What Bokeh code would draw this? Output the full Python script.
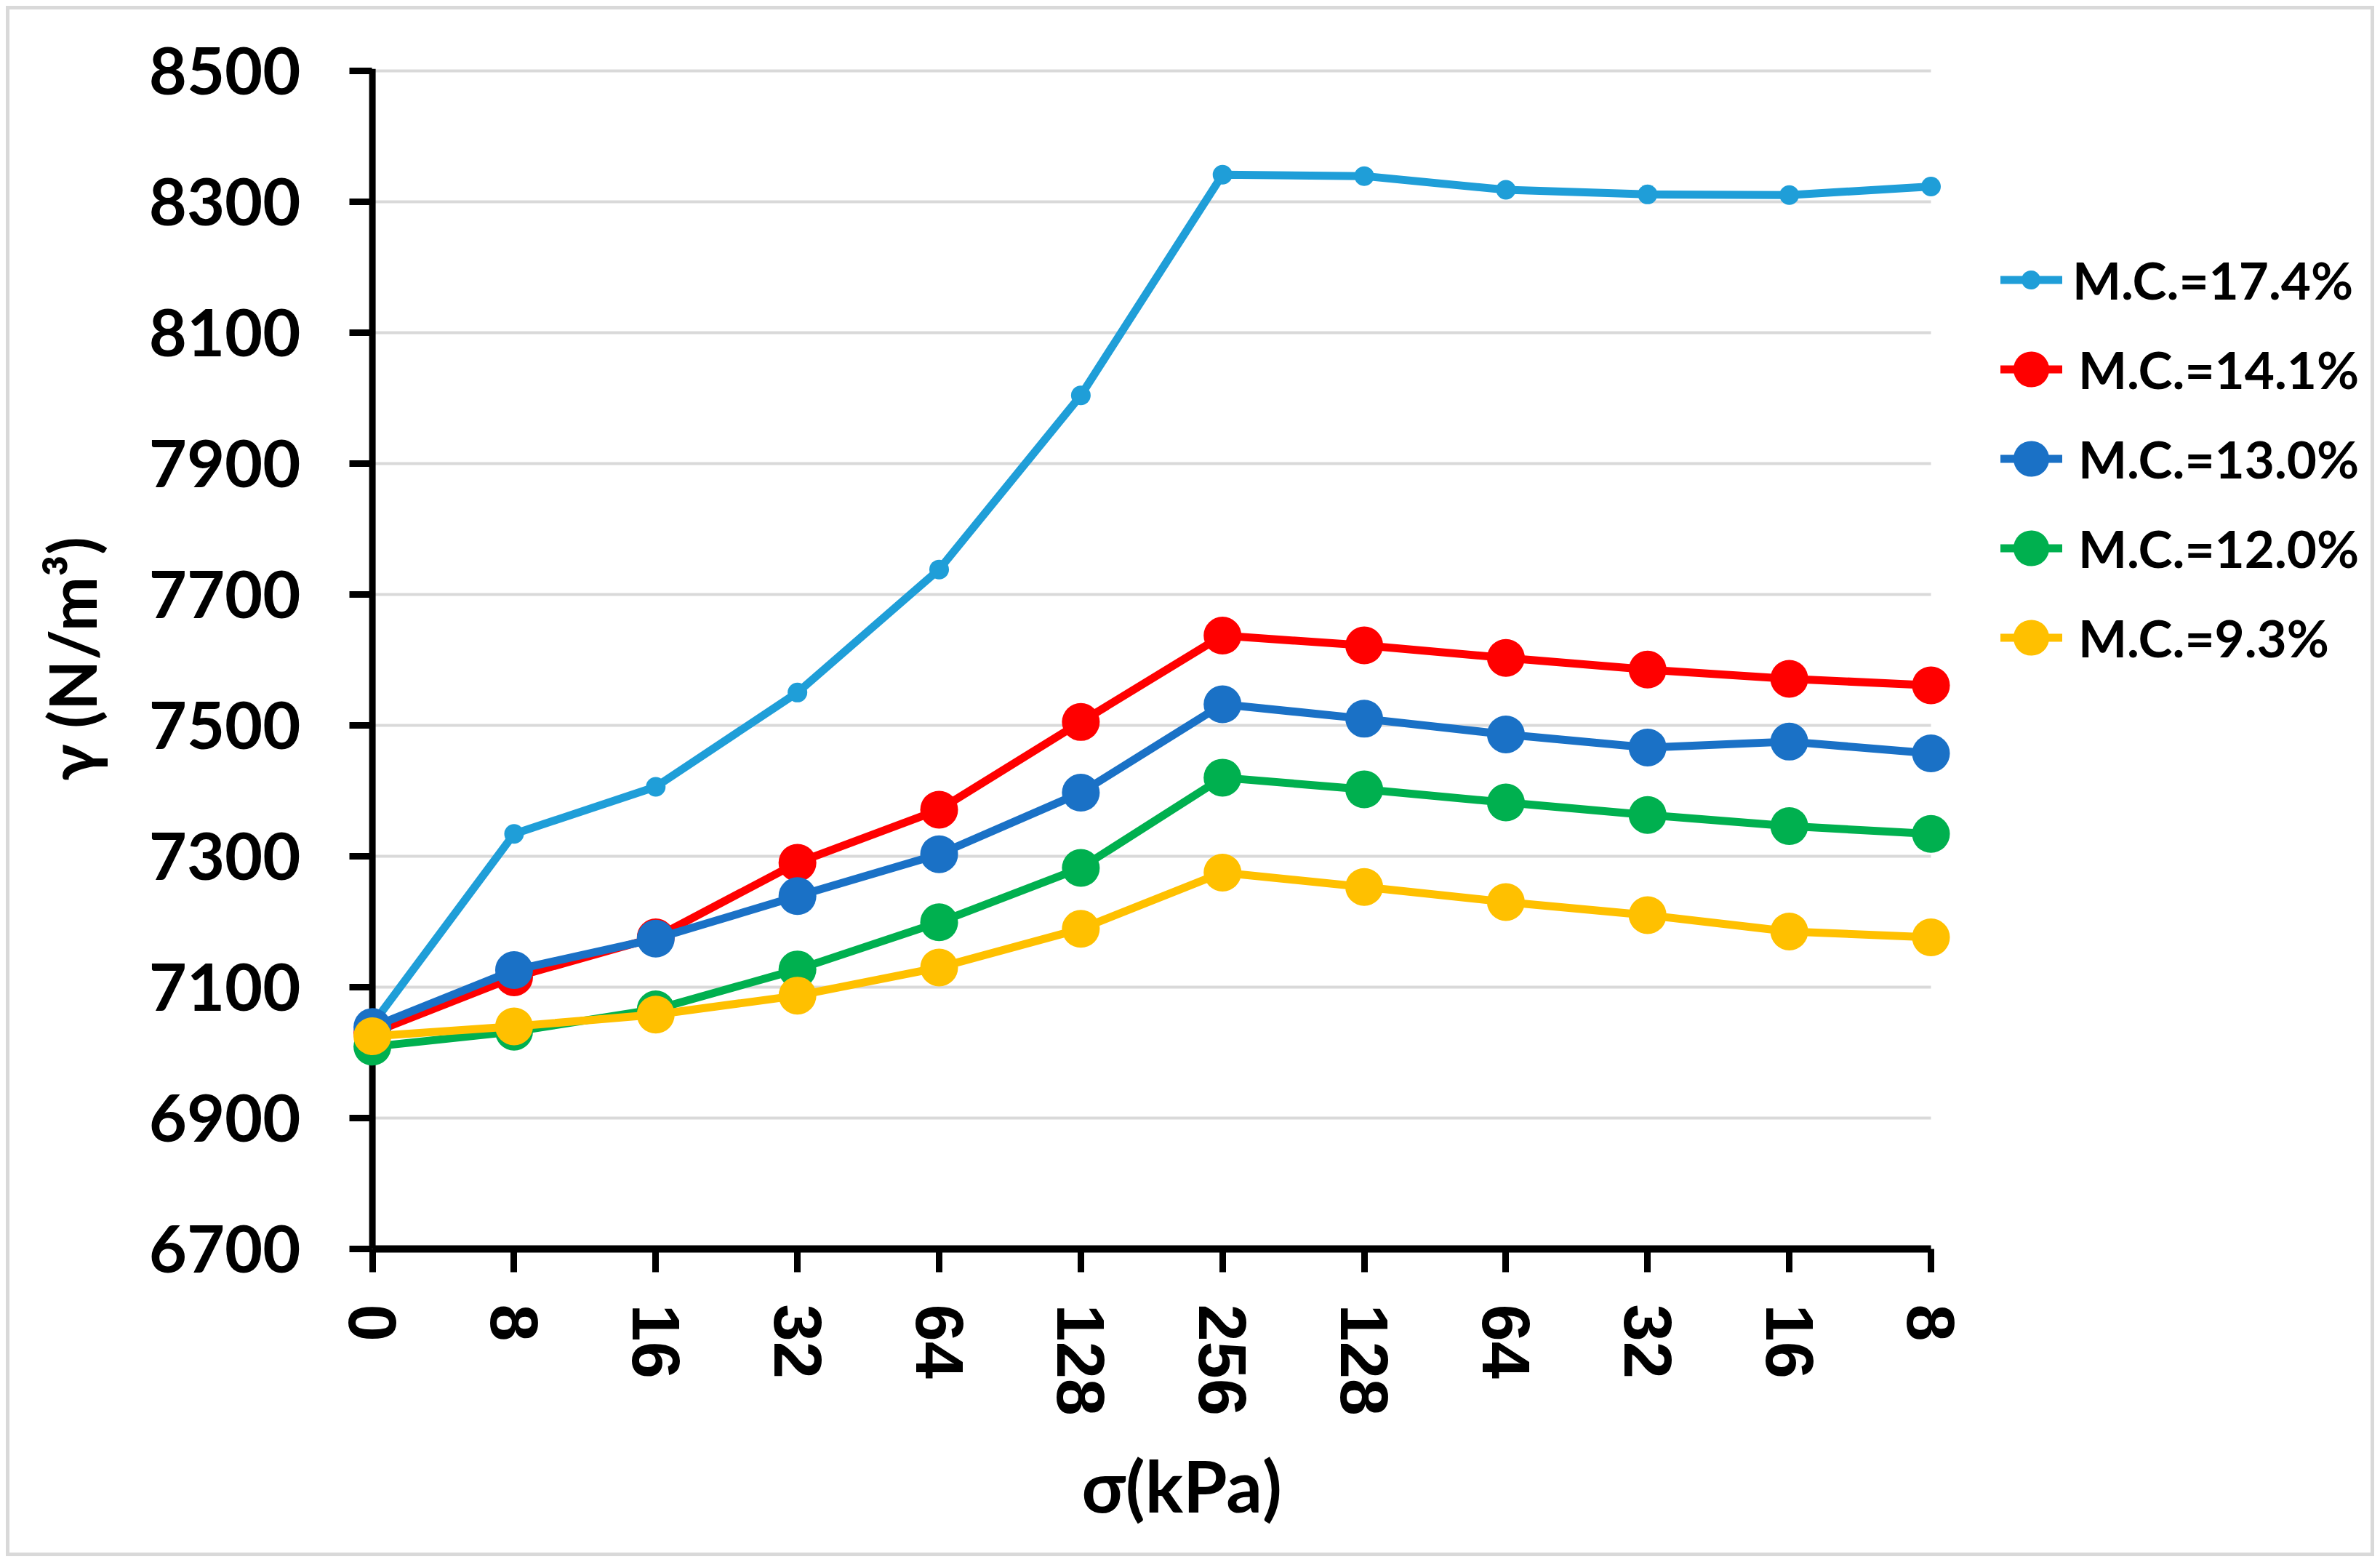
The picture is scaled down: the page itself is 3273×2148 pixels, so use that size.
from bokeh.plotting import figure
from bokeh.layouts import column
from bokeh.models import (Range1d, FixedTicker, Legend, LegendItem, ColumnDataSource,
                          Span, Title)
from bokeh.embed import file_html
from bokeh.resources import INLINE
from bokeh.core.properties import value

# ---------------- data ----------------
categories = ["0", "8", "16", "32", "64", "128", "256", "128", "64", "32", "16", "8"]
mc_17_4 = [7043, 7334, 7406, 7550, 7738, 8004, 8341, 8339, 8318, 8311, 8310, 8323]
mc_14_1 = [7030, 7115, 7176, 7290, 7371, 7505, 7637, 7622, 7603, 7585, 7571, 7561]
mc_13_0 = [7039, 7126, 7174, 7239, 7303, 7397, 7532, 7510, 7486, 7466, 7475, 7457]
mc_12_0 = [7009, 7032, 7066, 7127, 7199, 7282, 7420, 7402, 7382, 7363, 7346, 7334]
mc_9_3 = [7025, 7040, 7058, 7087, 7130, 7189, 7275, 7253, 7230, 7210, 7185, 7176]
series_names = ["M.C.=17.4%", "M.C.=14.1%", "M.C.=13.0%", "M.C.=12.0%", "M.C.=9.3%"]
series_values = [mc_17_4, mc_14_1, mc_13_0, mc_12_0, mc_9_3]
y_ticks = [6700, 6900, 7100, 7300, 7500, 7700, 7900, 8100, 8300, 8500]

# ---------------- style ----------------
colors = ["#1F9ED8", "#FF0000", "#1A71C6", "#00B04F", "#FFC000"]
marker_sizes = [27, 52, 52, 52, 52]
OFF = 13                      # outer margin (8) + grey chart border (5)
W, H = 3273 - 2 * OFF, 2148 - 2 * OFF
ML, MR, MT, MB = 484 - OFF, 0, 94 - OFF, 2148 - 1717 - OFF
n = len(categories)
x = list(range(n))
last = n - 1
px_per_unit = 194.85
x_start = -(511.6 - 484) / px_per_unit
x_end = last + ((3273 - OFF) - 2655.0) / px_per_unit

p = figure(width=W, height=H, output_backend="svg", toolbar_location=None,
           x_range=Range1d(x_start, x_end), y_range=Range1d(y_ticks[0], y_ticks[-1] + 3),
           min_border_left=ML, min_border_right=MR, min_border_top=MT, min_border_bottom=MB)
p.outline_line_color = None
p.background_fill_color = "white"
p.border_fill_color = "white"

# y axis line at x = 0
p.add_layout(Span(location=0, dimension="height", line_color="black", line_width=9,
                  level="underlay"))

line_rs, scat_rs = [], []
for ys, col, sz in zip(series_values, colors, marker_sizes):
    src = ColumnDataSource(dict(x=x, y=ys))
    lr = p.line("x", "y", source=src, line_color=col, line_width=11,
                line_cap="round", line_join="round")
    sr = p.scatter("x", "y", source=src, size=sz, fill_color=col, line_color=None)
    line_rs.append(lr)
    scat_rs.append(sr)

# x axis
xa = p.xaxis[0]
xa.ticker = FixedTicker(ticks=x)
xa.major_label_overrides = {i: c for i, c in enumerate(categories)}
xa.major_label_orientation = "vertical"
xa.bounds = (0, last)
xa.axis_line_color = "black"
xa.axis_line_width = 10
xa.major_tick_line_color = "black"
xa.major_tick_line_width = 9
xa.major_tick_out = 32
xa.major_tick_in = 0
xa.minor_tick_line_color = None
xa.major_label_text_font = "Liberation Sans"
xa.major_label_text_font_style = "bold"
xa.major_label_text_font_size = "92px"
xa.major_label_text_color = "black"
xa.major_label_standoff = 44

# y axis (line drawn by the Span; ticks reach from the frame edge to x = 0)
ya = p.yaxis[0]
ya.ticker = FixedTicker(ticks=y_ticks)
ya.bounds = (y_ticks[0], y_ticks[-1])
ya.axis_line_color = None
ya.major_tick_line_color = "black"
ya.major_tick_line_width = 9
ya.major_tick_out = 4
ya.major_tick_in = 27
ya.minor_tick_line_color = None
ya.major_label_text_font = "Lato"
ya.major_label_text_font_style = "bold"
ya.major_label_text_font_size = "90px"
ya.major_label_text_color = "black"
ya.major_label_standoff = 67
ya.axis_label = "γ (N/m³)"
ya.axis_label_text_font = "Lato"
ya.axis_label_text_font_style = "bold"
ya.axis_label_text_font_size = "90px"
ya.axis_label_text_color = "black"
ya.axis_label_standoff = 50

p.xgrid.grid_line_color = None
p.ygrid.grid_line_color = "#D9D9D9"
p.ygrid.grid_line_width = 4
g = p.ygrid[0]
if "cross_bounds" in g.properties():
    g.cross_bounds = (0, last)

# x axis title
p.add_layout(Title(text="σ(kPa)", align="left", offset=1487 - 484, text_font="Lato",
                   text_font_style="bold", text_font_size="98px", text_color="black",
                   standoff=63), "below")

# legends (inside the widened frame, right of the data)
lab_font = dict(label_text_font="Lato", label_text_font_style="bold",
                label_text_font_size="71px", label_text_color="black")
common = dict(padding=0, margin=0, border_line_color=None, background_fill_alpha=0,
              glyph_height=123, spacing=0)

leg_lines = Legend(items=[LegendItem(label=value(""), renderers=[r]) for r in line_rs],
                   location=(2267, 779), glyph_width=85, label_standoff=0,
                   **common, **lab_font)
leg_a = Legend(items=[LegendItem(label=value(series_names[0]), renderers=[scat_rs[0]])],
               location=(2276, 1271), glyph_width=65, label_standoff=25,
               **common, **lab_font)
leg_b = Legend(items=[LegendItem(label=value(nm), renderers=[r])
                      for nm, r in zip(series_names[1:], scat_rs[1:])],
               location=(2244, 779), glyph_width=130, label_standoff=-7,
               **common, **lab_font)
p.add_layout(leg_lines)
p.add_layout(leg_a)
p.add_layout(leg_b)

# light grey chart border around the figure
root = column(p, styles={"border": "5px solid #D9D9D9", "margin": "8px"})

open("out.html", "w").write(file_html(root, INLINE))
